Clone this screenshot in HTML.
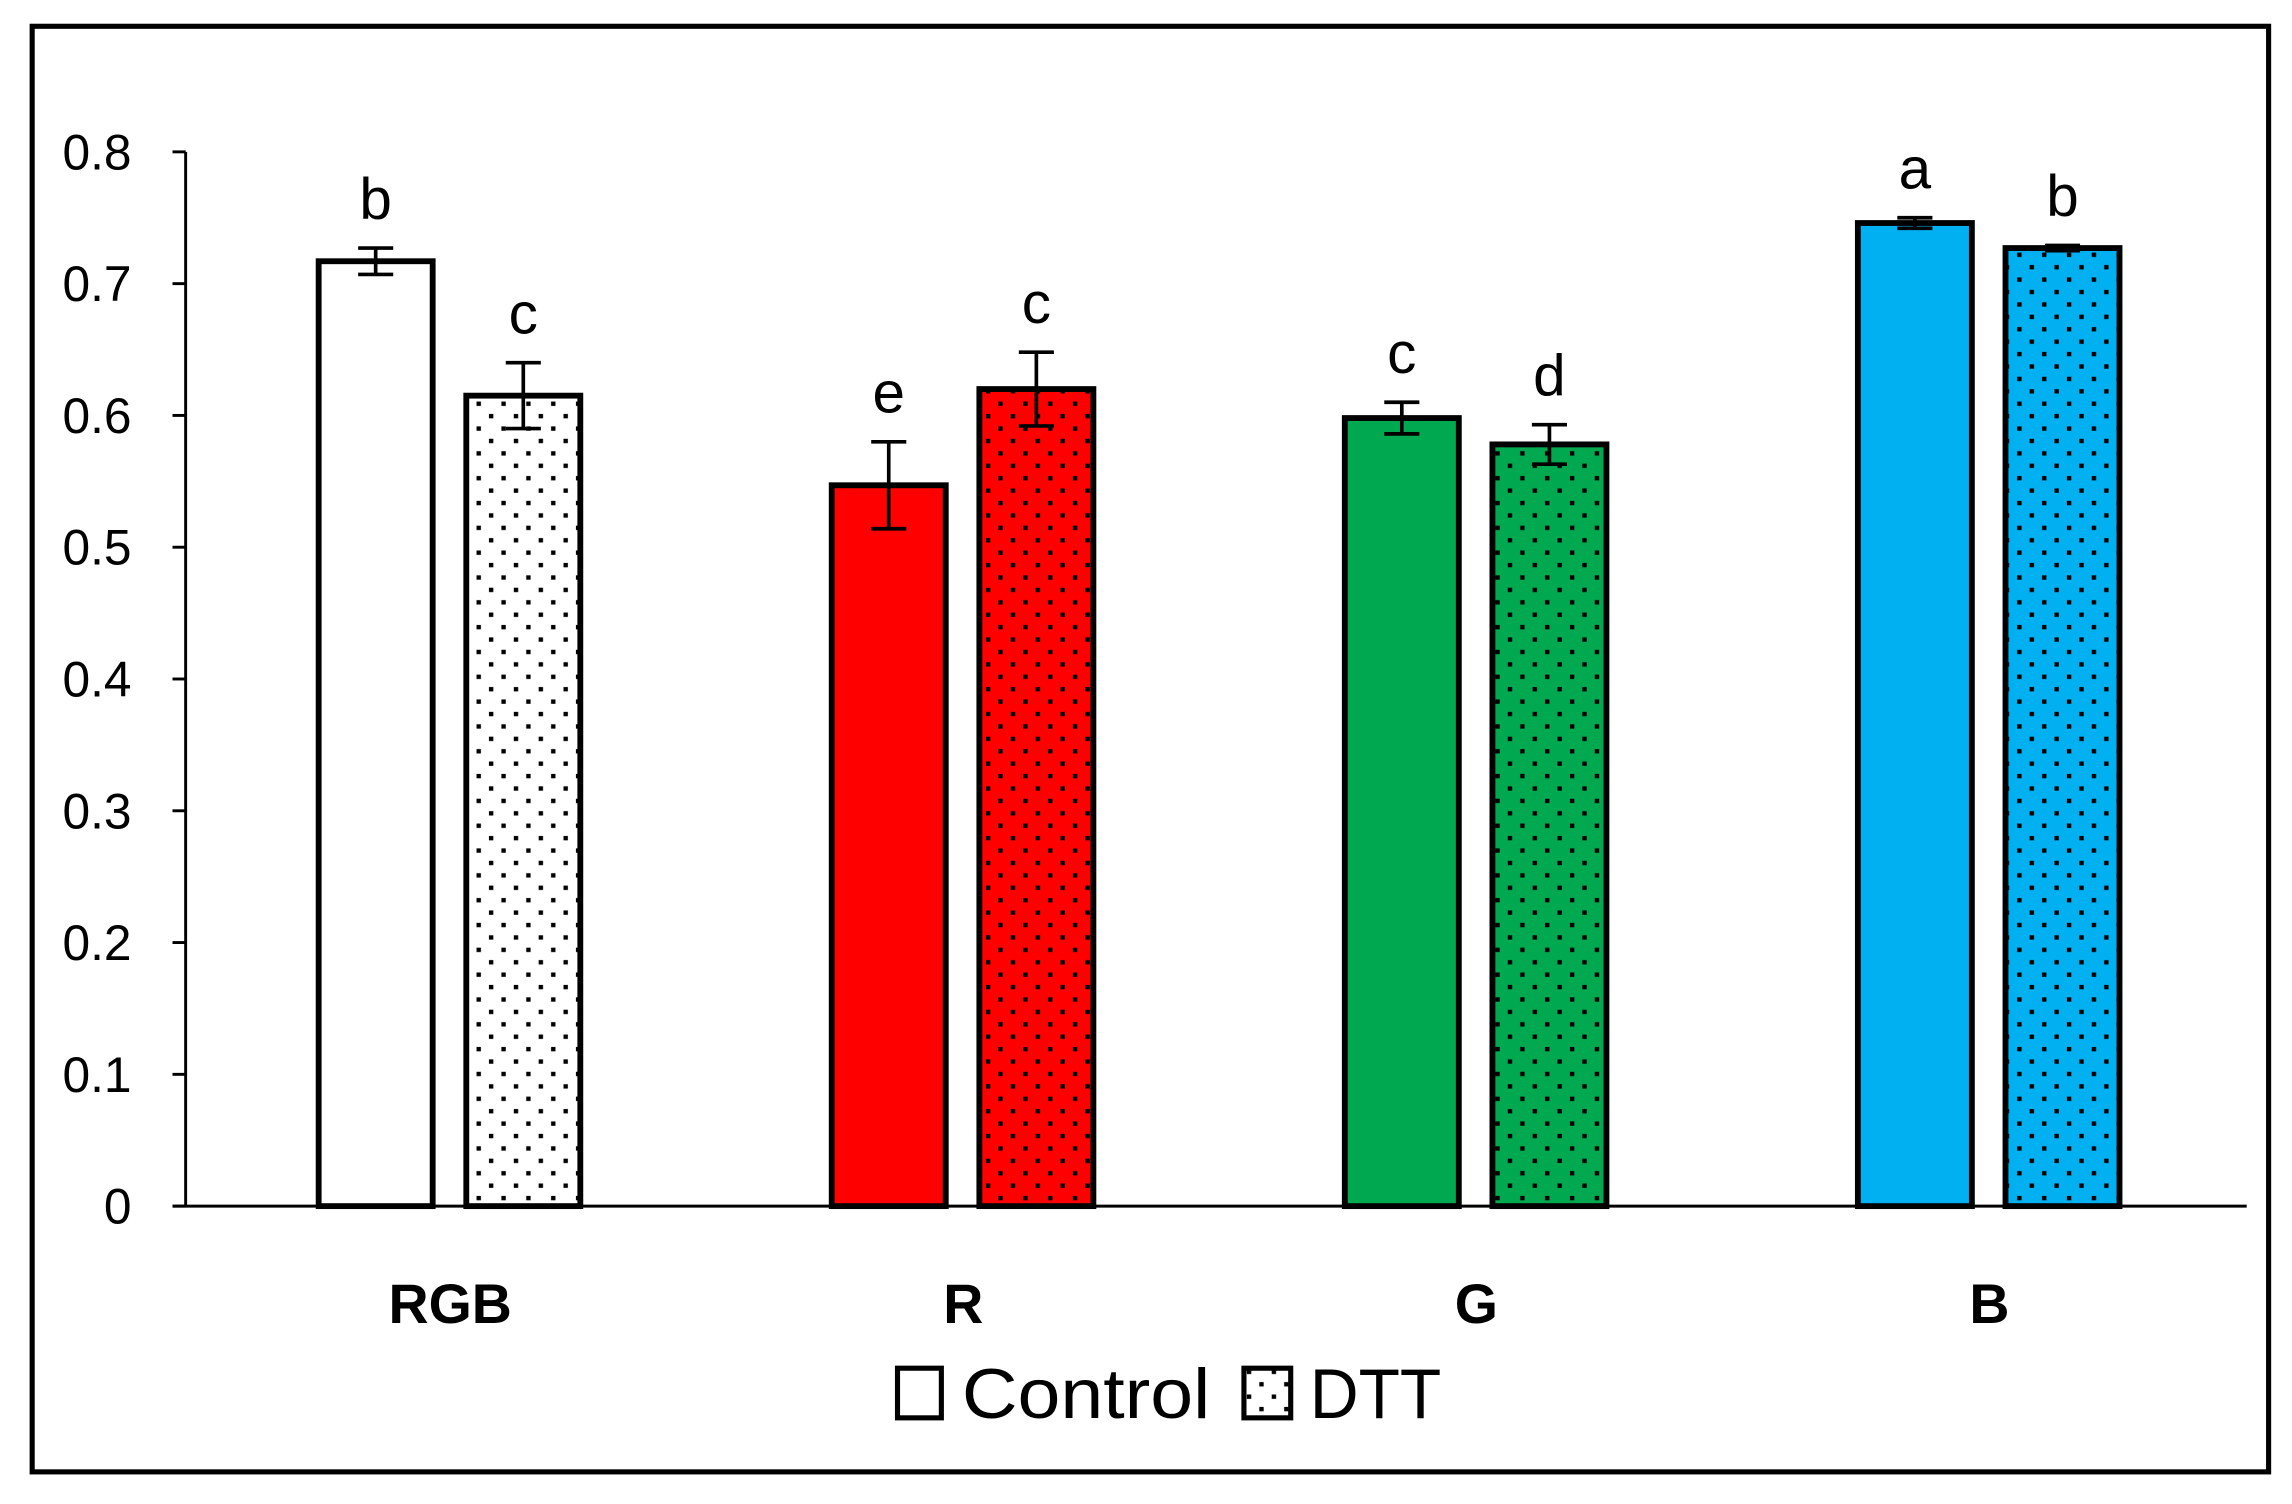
<!DOCTYPE html>
<html><head><meta charset="utf-8"><style>
html,body{margin:0;padding:0;background:#fff;}
svg{display:block;}
text{font-family:"Liberation Sans",sans-serif;}
</style></head><body>
<svg id="chart" width="2292" height="1504" viewBox="0 0 1568 1030" preserveAspectRatio="none" xmlns="http://www.w3.org/2000/svg">
<defs>
<pattern id="dotsW" width="17" height="17" patternUnits="userSpaceOnUse"><rect width="17" height="17" fill="#fff"/><rect x="3" y="3" width="3" height="3" fill="#000"/><rect x="11.5" y="11.5" width="3" height="3" fill="#000"/></pattern>
<pattern id="dotsR" width="17" height="17" patternUnits="userSpaceOnUse"><rect width="17" height="17" fill="#ff0000"/><rect x="3" y="3" width="3" height="3" fill="#000"/><rect x="11.5" y="11.5" width="3" height="3" fill="#000"/></pattern>
<pattern id="dotsG" width="17" height="17" patternUnits="userSpaceOnUse"><rect width="17" height="17" fill="#00a84f"/><rect x="3" y="3" width="3" height="3" fill="#000"/><rect x="11.5" y="11.5" width="3" height="3" fill="#000"/></pattern>
<pattern id="dotsB" width="17" height="17" patternUnits="userSpaceOnUse"><rect width="17" height="17" fill="#00b0f0"/><rect x="3" y="3" width="3" height="3" fill="#000"/><rect x="11.5" y="11.5" width="3" height="3" fill="#000"/></pattern>
</defs>
<rect x="22" y="18" width="1530" height="990" fill="#fff" stroke="#000" stroke-width="3.5"/>
<g id="plot"></g>
</svg>
<script>
const categories = ["RGB","R","G","B"];
const controlValues = [0.717,0.547,0.598,0.746];
const dttValues = [0.615,0.620,0.578,0.727];
const controlErr = [0.010,0.033,0.012,0.004];
const dttErr = [0.025,0.028,0.015,0.002];
const controlLetters = ["b","e","c","a"];
const dttLetters = ["c","c","d","b"];
const yTicks = [0,0.1,0.2,0.3,0.4,0.5,0.6,0.7,0.8];
const yTickLabels = ["0","0.1","0.2","0.3","0.4","0.5","0.6","0.7","0.8"];

const NS="http://www.w3.org/2000/svg";
const g=document.getElementById('plot');
const x0=127,x1=1537,y0=826,yTop=104;
function y(v){return y0-v*(y0-yTop)/0.8;}
function groupCenter(i){return 308+i*351;}
function mk(tag,attrs){const e=document.createElementNS(NS,tag);for(const k in attrs)e.setAttribute(k,attrs[k]);g.appendChild(e);return e;}

let ax=mk('line',{x1:x0,y1:yTop,x2:x0,y2:y0,stroke:'#000','stroke-width':2});


yTicks.forEach((v,i)=>{
  let t=mk('line',{x1:118,y1:y(v),x2:x0,y2:y(v),stroke:'#000','stroke-width':2});
  
  
  let l=mk('text',{x:90,y:y(v)+12,'text-anchor':'end','font-size':34,fill:'#000'});
  l.textContent=yTickLabels[i];
  
  
});
const ctrlFill=['#ffffff','#ff0000','#00a84f','#00b0f0'];
const dttFill=['url(#dotsW)','url(#dotsR)','url(#dotsG)','url(#dotsB)'];
const bw=78;
function bar(cx,v,e,fill,letter,name){
  let r=mk('rect',{x:cx-bw/2,y:y(v),width:bw,height:y0-y(v),fill:fill,stroke:'#000','stroke-width':4});
  
  
  let eb=mk('path',{d:`M${cx} ${y(v+e)}V${y(v-e)}M${cx-12} ${y(v+e)}H${cx+12}M${cx-12} ${y(v-e)}H${cx+12}`,stroke:'#000','stroke-width':2.5,fill:'none'});
  
  
  let t=mk('text',{x:cx,y:y(v+e)-20,'text-anchor':'middle','font-size':40,fill:'#000'});
  t.textContent=letter;
  
  
}
categories.forEach((c,i)=>{
  const gc=groupCenter(i);
  bar(gc-51,controlValues[i],controlErr[i],ctrlFill[i],controlLetters[i],'bar-control-'+c.toLowerCase());
  bar(gc+50,dttValues[i],dttErr[i],dttFill[i],dttLetters[i],'bar-dtt-'+c.toLowerCase());
  let l=mk('text',{x:gc,y:906,'text-anchor':'middle','font-size':38,'font-weight':'bold',fill:'#000'});
  l.textContent=c;
  
  
});
let xa=mk('line',{x1:118,y1:y0,x2:x1,y2:y0,stroke:'#000','stroke-width':2});


let lb1=mk('rect',{x:614,y:937,width:30,height:34,fill:'#fff',stroke:'#000','stroke-width':3.5});


let lt1=mk('text',{x:658,y:971,'font-size':48,fill:'#000',textLength:170,lengthAdjust:'spacingAndGlyphs'});
lt1.textContent='Control';


let lb2=mk('rect',{x:851,y:937,width:32,height:34,fill:'url(#dotsW)',stroke:'#000','stroke-width':3.5});


let lt2=mk('text',{x:896,y:971,'font-size':48,fill:'#000',textLength:90,lengthAdjust:'spacingAndGlyphs'});
lt2.textContent='DTT';


</script>
</body></html>
